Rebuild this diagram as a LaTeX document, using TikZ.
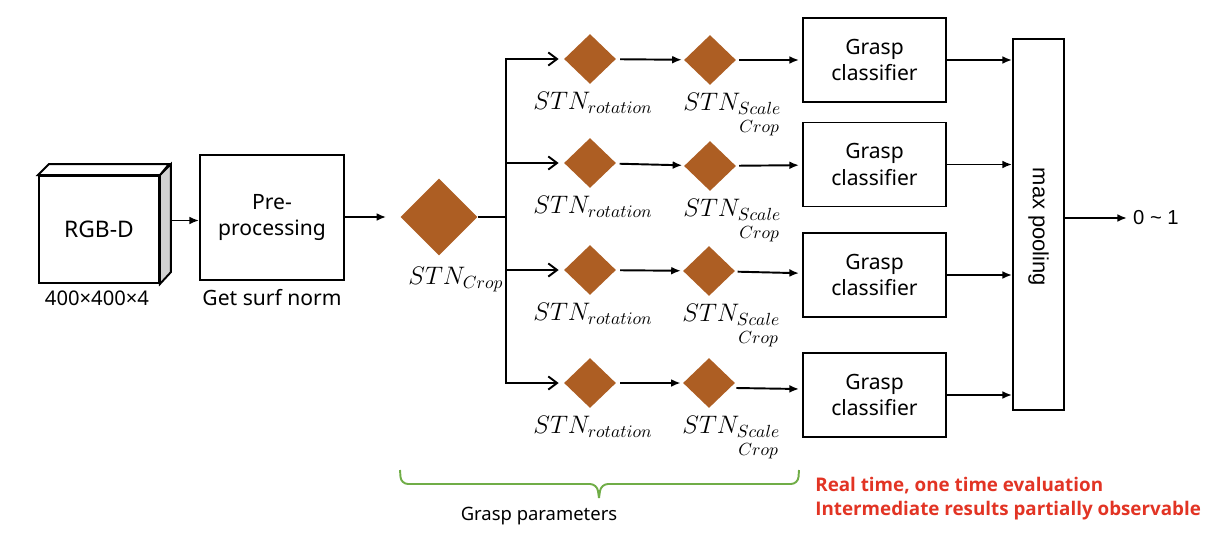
\documentclass[tikz,border=0pt]{standalone}
\usepackage{amsmath}
\usepackage{fontspec}
\setmainfont{Noto Sans}
\newfontfamily\arialfont{Liberation Sans}
\newfontfamily\remarkfont{Open Sans}
\usetikzlibrary{shapes.geometric,arrows.meta,positioning,calc}
\definecolor{stnbrown}{RGB}{173,94,35}
\definecolor{bracegreen}{RGB}{112,173,71}
\definecolor{notered}{RGB}{226,52,36}

\begin{document}
\begin{tikzpicture}[
    x=0.02cm, y=-0.02cm,
    box/.style={rectangle, draw, line width=1.1pt, align=center, font=\fontsize{12}{15}\selectfont},
    classbox/.style={box, minimum width=2.86cm, minimum height=1.68cm},
    stn/.style={diamond, fill=stnbrown, inner sep=0pt, minimum width=1.04cm, minimum height=1cm},
    stnlabel/.style={inner sep=0pt, font=\fontsize{14}{16}\selectfont},
    note/.style={font=\fontsize{11.5}{14}\selectfont},
    arrow/.style={-{Latex[length=5.5pt,width=4.5pt]}, line width=1.1pt},
    branch/.style={-{Straight Barb[length=5pt,width=7.5pt]}, line width=1.1pt}
]
    \useasboundingbox (0,0) rectangle (1226,544);

    % input and pre-processing
    \node[box, minimum width=2.4cm, minimum height=2.14cm, font=\fontsize{13}{15}\selectfont] (rgbd) at (99,229.5) {RGB-D};
    \draw[line width=1.1pt, fill=gray!35] (rgbd.north east) -- ++(11,-11) -- ++(0,108) -- (rgbd.south east) -- cycle;
    \draw[line width=1.1pt, fill=white] (rgbd.north west) -- ++(11,-11) -- ++(120,0) -- (rgbd.north east) -- cycle;
    \coordinate (rgbdback) at ($(rgbd.east)+(11,-9)$);
    \node[note] (size) at (97,298) {400×400×4};

    \node[box, minimum width=2.88cm, minimum height=2.5cm] (pre) at (272,217.5) {Pre-\\processing};
    \node[note, font=\fontsize{12}{14}\selectfont] (surf) at (272,298) {Get surf norm};

    \node[stn, minimum width=1.54cm, minimum height=1.54cm] (crop) at (439,217) {};
    \node[stnlabel, anchor=north west] (croplbl) at ($(crop.south)+(-31,11)$) {$STN_{Crop}$};
    \coordinate (split) at (506,217);

    \draw[arrow] (rgbdback) -- (rgbdback -| pre.west);
    \draw[arrow, shorten >=0.28cm] (pre.east |- crop) -- (crop.west);
    \draw[line width=1.1pt] (crop.east) -- (split);

    % rotation STNs
    \node[stn] (rot1) at (590,59) {};
    \node[stn] (rot2) at (590,163) {};
    \node[stn] (rot3) at (590,270) {};
    \node[stn] (rot4) at (590,383) {};
    \node[stnlabel, anchor=north] (rotlbl1) at ($(rot1.south)+(3,8)$) {$STN_{rotation}$};
    \node[stnlabel, anchor=north] (rotlbl2) at ($(rot2.south)+(3,8)$) {$STN_{rotation}$};
    \node[stnlabel, anchor=north] (rotlbl3) at ($(rot3.south)+(3,8)$) {$STN_{rotation}$};
    \node[stnlabel, anchor=north] (rotlbl4) at ($(rot4.south)+(3,8)$) {$STN_{rotation}$};

    % scale / crop STNs
    \node[stn] (sc1) at (710,60) {};
    \node[stn] (sc2) at (710,166) {};
    \node[stn] (sc3) at (709,271) {};
    \node[stn] (sc4) at (709,383) {};
    \node[stnlabel, anchor=north west] (sclbl1) at ($(sc1.south)+(-27,8)$) {$STN_{\substack{Scale\vphantom{p}\\ Crop}}$};
    \node[stnlabel, anchor=north west] (sclbl2) at ($(sc2.south)+(-27,8)$) {$STN_{\substack{Scale\vphantom{p}\\ Crop}}$};
    \node[stnlabel, anchor=north west] (sclbl3) at ($(sc3.south)+(-27,8)$) {$STN_{\substack{Scale\vphantom{p}\\ Crop}}$};
    \node[stnlabel, anchor=north west] (sclbl4) at ($(sc4.south)+(-27,8)$) {$STN_{\substack{Scale\vphantom{p}\\ Crop}}$};

    % classifiers and pooling
    \node[classbox] (gc1) at (874.5,60) {Grasp\\classifier};
    \node[classbox] (gc2) at (874.5,164.5) {Grasp\\classifier};
    \node[classbox] (gc3) at (874.5,275) {Grasp\\classifier};
    \node[classbox] (gc4) at (874.5,395) {Grasp\\classifier};

    \node[box, minimum width=1.02cm, minimum height=7.42cm] (pool) at (1038.5,224.5) {};
    \node[rotate=-90, font=\arialfont\fontsize{12.5}{14}\selectfont] (poollbl) at (1038.5,227) {max pooling};
    \node[font=\arialfont\fontsize{11.5}{14}\selectfont, anchor=west] (out) at (1127,218) {0 \char`~{} 1};

    \draw[branch, shorten >=0.1cm] (split) |- (rot1.west);
    \draw[branch, shorten >=0.1cm] (split) |- (rot2.west);
    \draw[branch, shorten >=0.1cm] (split) |- (rot3.west);
    \draw[branch, shorten >=0.1cm] (split) |- (rot4.west);

    \draw[arrow, shorten <=0.08cm, shorten >=0.04cm] (rot1) -- (sc1);
    \draw[arrow, shorten <=0.08cm, shorten >=0.04cm] (rot2) -- (sc2);
    \draw[arrow, shorten <=0.08cm, shorten >=0.04cm] (rot3) -- (sc3);
    \draw[arrow, shorten <=0.08cm, shorten >=0.04cm] (rot4) -- (sc4);

    \draw[arrow, shorten <=0.06cm, shorten >=0.06cm] (sc1) -- (gc1);
    \draw[arrow, shorten <=0.06cm, shorten >=0.06cm] (sc2) -- (gc2);
    \draw[arrow, shorten <=0.06cm, shorten >=0.06cm] (sc3) -- (gc3);
    \draw[arrow] ($(sc4.east)+(1,5)$) -- ($(gc4.west)+(-3,-6)$);

    \draw[arrow] (gc1.east) -- (gc1.east -| pool.west);
    \draw[arrow] (gc2.east) -- (gc2.east -| pool.west);
    \draw[arrow] (gc3.east) -- (gc3.east -| pool.west);
    \draw[arrow] (gc4.east) -- (gc4.east -| pool.west);
    \draw[arrow] (pool.east |- out) -- (out.west);

    % brace under the STNs
    \draw[bracegreen, line width=1.1pt, rounded corners=4] (400,470) -- (401,484) -- (597,484) -- (599,498);
    \draw[bracegreen, line width=1.1pt, rounded corners=4] (799,470) -- (798,484) -- (601,484) -- (599,498);
    \node[font=\fontsize{10.5}{13}\selectfont] (params) at (539,516) {Grasp parameters};

    \node[anchor=west, align=left, text=notered, inner sep=0pt, font=\remarkfont\bfseries\fontsize{10.7}{13.6}\selectfont] (remark) at (815,499) {Real time, one time evaluation\\Intermediate results partially observable};
\end{tikzpicture}
\end{document}
